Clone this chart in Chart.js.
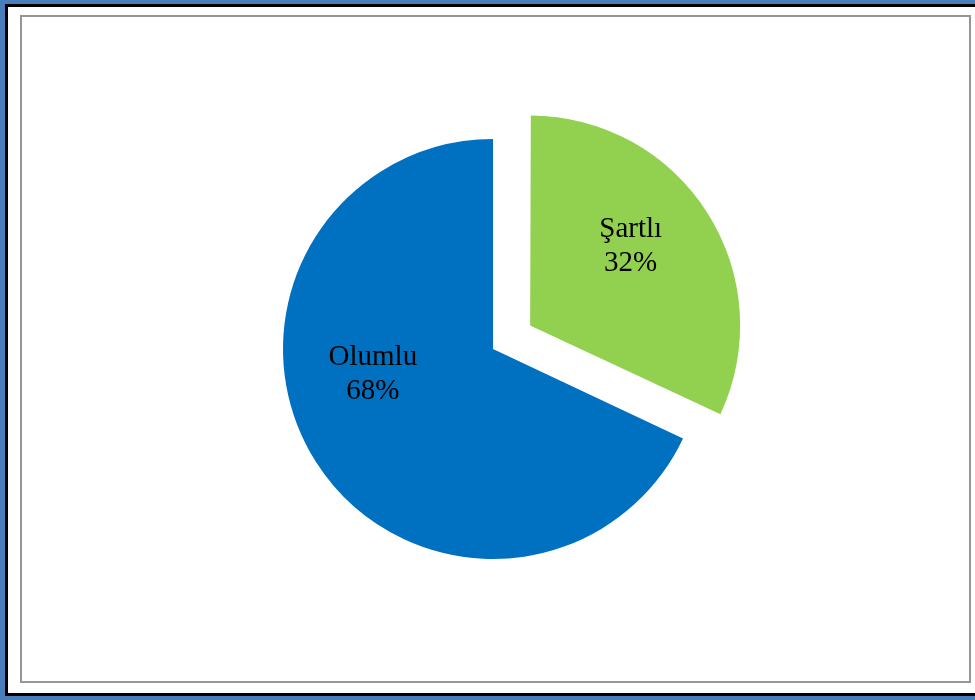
<!DOCTYPE html>
<html>
<head>
<meta charset="utf-8">
<script src="https://cdn.jsdelivr.net/npm/chart.js@4/dist/chart.umd.min.js"></script>
<style>
  html, body { margin: 0; padding: 0; background: #ffffff; }
  body { width: 975px; height: 700px; position: relative; overflow: hidden; }
  .frame-blue { position: absolute; left: 0; top: 0; width: 990px; height: 700px;
    box-sizing: border-box; border: 4px solid #4a7ebb; border-left-width: 5px; }
  .frame-black { position: absolute; left: 5px; top: 4px; width: 990px; height: 692px;
    box-sizing: border-box; border: 3px solid #000000; }
  .plot-box { position: absolute; left: 20px; top: 15px; width: 951px; height: 668px;
    box-sizing: border-box; border: 2px solid #969696; }
  #wrap { position: absolute; left: 0; top: 0; width: 975px; height: 700px; }
</style>
</head>
<body>
<div class="frame-blue"></div>
<div class="frame-black"></div>
<div class="plot-box"></div>
<div id="wrap"><canvas id="pie"></canvas></div>
<script>
// Response categories and their shares (%)
const categories = ['Şartlı', 'Olumlu'];
const shares = [32, 68];
const sliceColors = ['#92d050', '#0070c0'];

// Label anchors: angle (deg, clockwise from top) and fraction of the radius
const labelAnchors = [
  { angle: 52, frac: 0.62 },
  { angle: 258, frac: 0.585 }
];

// Keep exploded slices at the same radius as the others: Chart.js v4 grows
// an exploded arc by offset/4 * (1 - sin(circumference)), so take that back.
const evenRadius = {
  id: 'evenRadius',
  beforeDatasetsDraw(chart) {
    const meta = chart.getDatasetMeta(0);
    meta.data.forEach(arc => {
      const off = (arc.options.offset || 0) / 4;
      if (!off) return;
      if (arc.$baseRadius === undefined || arc.$baseRadius !== arc.outerRadius + (arc.$trim || 0)) {
        arc.$baseRadius = arc.outerRadius;
      }
      const circ = arc.endAngle - arc.startAngle;
      const trim = off * (1 - Math.sin(Math.min(Math.PI, circ)));
      arc.outerRadius = arc.$baseRadius - trim;
      arc.$trim = trim;
    });
  }
};

const sliceLabels = {
  id: 'sliceLabels',
  afterDatasetsDraw(chart) {
    const { ctx } = chart;
    const meta = chart.getDatasetMeta(0);
    const total = shares.reduce((s, v) => s + v, 0);
    ctx.save();
    ctx.font = '29px "Liberation Serif", "Times New Roman", serif';
    ctx.fillStyle = '#000000';
    ctx.textAlign = 'center';
    ctx.textBaseline = 'middle';
    meta.data.forEach((arc, i) => {
      const p = arc.getProps(['x', 'y', 'startAngle', 'endAngle', 'outerRadius'], true);
      // Chart.js v4 moves an exploded arc by a quarter of its offset option
      const off = (arc.options.offset || 0) / 4;
      const mid = (p.startAngle + p.endAngle) / 2;
      const cx = p.x + Math.cos(mid) * off;
      const cy = p.y + Math.sin(mid) * off;
      const a = labelAnchors[i];
      const th = (a.angle - 90) * Math.PI / 180;
      const r = p.outerRadius * a.frac;
      const lx = cx + Math.cos(th) * r;
      const ly = cy + Math.sin(th) * r;
      const pct = Math.round(shares[i] / total * 100) + '%';
      ctx.fillText(categories[i], lx, ly - 17);
      ctx.fillText(pct, lx, ly + 17);
    });
    ctx.restore();
  }
};

new Chart(document.getElementById('pie'), {
  type: 'pie',
  data: {
    labels: categories,
    datasets: [{
      data: shares,
      backgroundColor: sliceColors,
      borderWidth: 0,
      offset: [176, 0]
    }]
  },
  options: {
    responsive: true,
    maintainAspectRatio: false,
    animation: false,
    layout: { padding: { left: 195, right: 184, top: 51, bottom: 53 } },
    plugins: {
      legend: { display: false },
      tooltip: { enabled: false }
    }
  },
  plugins: [evenRadius, sliceLabels]
});
</script>
</body>
</html>
